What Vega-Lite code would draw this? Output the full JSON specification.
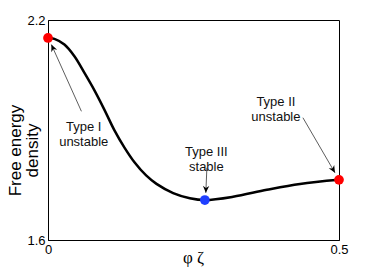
{
  "$schema": "https://vega.github.io/schema/vega-lite/v6.json",
  "autosize": "none",
  "padding": {"left": 48, "top": 20, "right": 35, "bottom": 37},
  "width": 291,
  "height": 220,
  "config": {
    "view": {"stroke": "#000", "strokeWidth": 1},
    "font": "Liberation Sans"
  },
  "datasets": {
    "curve": [
      {"x": 0.0, "y": 2.151},
      {"x": 0.011, "y": 2.1486},
      {"x": 0.0282, "y": 2.133},
      {"x": 0.0454, "y": 2.101},
      {"x": 0.0626, "y": 2.0557},
      {"x": 0.0798, "y": 2.008},
      {"x": 0.097, "y": 1.955},
      {"x": 0.1142, "y": 1.899},
      {"x": 0.1314, "y": 1.852},
      {"x": 0.1486, "y": 1.812},
      {"x": 0.1686, "y": 1.776},
      {"x": 0.1864, "y": 1.753},
      {"x": 0.215, "y": 1.728},
      {"x": 0.2437, "y": 1.714},
      {"x": 0.2695, "y": 1.709},
      {"x": 0.318, "y": 1.718},
      {"x": 0.376, "y": 1.737},
      {"x": 0.433, "y": 1.753},
      {"x": 0.5, "y": 1.764}
    ],
    "points": [
      {"x": 0.0, "y": 2.151, "kind": "unstable"},
      {"x": 0.2695, "y": 1.709, "kind": "stable"},
      {"x": 0.5, "y": 1.764, "kind": "unstable"}
    ],
    "labels": [
      {"x": 0.0614, "y": 1.909, "label": "Type I\nunstable"},
      {"x": 0.2721, "y": 1.8392, "label": "Type III\nstable"},
      {"x": 0.3916, "y": 1.9759, "label": "Type II\nunstable"}
    ],
    "arrows": [
      {"name": "I", "x": 0.0574, "y": 1.951, "x2": 0.0058, "y2": 2.133},
      {"name": "III", "x": 0.273, "y": 1.797, "x2": 0.2712, "y2": 1.7286},
      {"name": "II", "x": 0.438, "y": 1.9335, "x2": 0.4931, "y2": 1.7832}
    ]
  },
  "layer": [
    {
      "data": {"name": "curve"},
      "mark": {"type": "line", "color": "#000", "strokeWidth": 2.5, "interpolate": "catmull-rom"},
      "encoding": {
        "x": {
          "field": "x", "type": "quantitative",
          "scale": {"domain": [0, 0.5], "nice": false, "zero": false},
          "axis": {
            "values": [0, 0.5], "ticks": false, "grid": false, "format": "~g",
            "domainColor": "#000", "labelColor": "#000",
            "labelFontSize": 13, "labelFont": "Liberation Sans", "labelPadding": 3,
            "labelFlush": false,
            "title": "φ ζ", "titleFont": "Liberation Serif", "titleFontSize": 17,
            "titleFontWeight": "normal", "titleColor": "#000",
            "titleX": 145, "titleY": 17, "titleBaseline": "middle", "titleAlign": "center"
          }
        },
        "y": {
          "field": "y", "type": "quantitative",
          "scale": {"domain": [1.6, 2.2], "nice": false, "zero": false},
          "axis": {
            "values": [1.6, 2.2], "ticks": false, "grid": false,
            "domainColor": "#000", "labelColor": "#000",
            "labelFontSize": 13, "labelFont": "Liberation Sans", "labelPadding": 3,
            "labelFlush": false,
            "format": ".1f",
            "title": ["Free energy", "density"], "titleFont": "Liberation Sans",
            "titleFontSize": 17, "titleFontWeight": "normal", "titleColor": "#000",
            "titleLineHeight": 17,
            "titleAngle": -90, "titleX": -41, "titleY": 130,
            "titleAlign": "center", "titleBaseline": "top"
          }
        }
      }
    },
    {
      "data": {"name": "arrows"},
      "mark": {"type": "rule", "color": "#333", "strokeWidth": 0.8},
      "encoding": {
        "x": {"field": "x", "type": "quantitative"},
        "y": {"field": "y", "type": "quantitative"},
        "x2": {"field": "x2"},
        "y2": {"field": "y2"}
      }
    },
    {
      "data": {"name": "arrows"},
      "transform": [{"filter": "datum.name === 'I'"}],
      "mark": {"type": "point", "shape": "M0,0 L-1,-0.45 L-0.7,0 L-1,0.45 Z", "filled": true, "color": "#000", "size": 200, "angle": 246, "opacity": 1},
      "encoding": {
        "x": {"field": "x2", "type": "quantitative"},
        "y": {"field": "y2", "type": "quantitative"}
      }
    },
    {
      "data": {"name": "arrows"},
      "transform": [{"filter": "datum.name === 'III'"}],
      "mark": {"type": "point", "shape": "M0,0 L-1,-0.45 L-0.7,0 L-1,0.45 Z", "filled": true, "color": "#000", "size": 200, "angle": 92, "opacity": 1},
      "encoding": {
        "x": {"field": "x2", "type": "quantitative"},
        "y": {"field": "y2", "type": "quantitative"}
      }
    },
    {
      "data": {"name": "arrows"},
      "transform": [{"filter": "datum.name === 'II'"}],
      "mark": {"type": "point", "shape": "M0,0 L-1,-0.45 L-0.7,0 L-1,0.45 Z", "filled": true, "color": "#000", "size": 200, "angle": 60, "opacity": 1},
      "encoding": {
        "x": {"field": "x2", "type": "quantitative"},
        "y": {"field": "y2", "type": "quantitative"}
      }
    },
    {
      "data": {"name": "points"},
      "mark": {"type": "circle", "size": 95, "opacity": 1, "clip": false},
      "encoding": {
        "x": {"field": "x", "type": "quantitative"},
        "y": {"field": "y", "type": "quantitative"},
        "color": {
          "field": "kind", "type": "nominal",
          "scale": {"domain": ["unstable", "stable"], "range": ["#ff0000", "#1f3fff"]},
          "legend": null
        }
      }
    },
    {
      "data": {"name": "labels"},
      "mark": {"type": "text", "fontSize": 13, "font": "Liberation Sans", "color": "#111", "lineBreak": "\n", "lineHeight": 15, "align": "center", "baseline": "middle"},
      "encoding": {
        "x": {"field": "x", "type": "quantitative"},
        "y": {"field": "y", "type": "quantitative"},
        "text": {"field": "label"}
      }
    }
  ]
}
